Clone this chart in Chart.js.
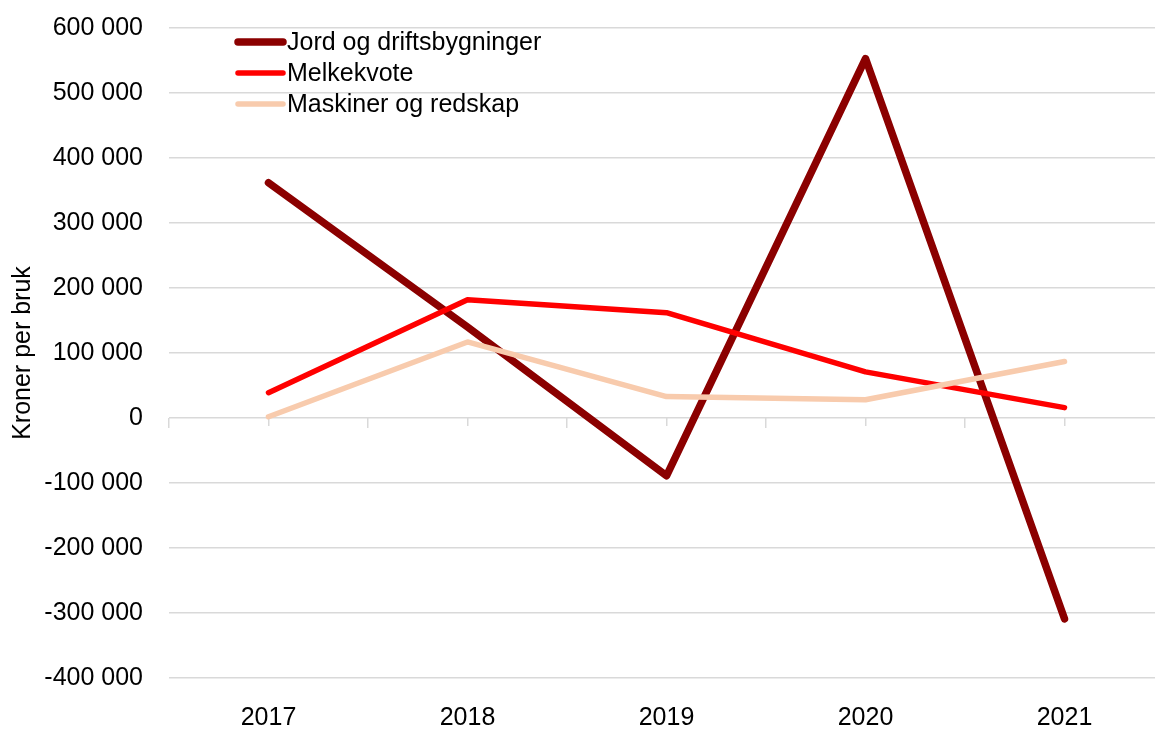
<!DOCTYPE html>
<html>
<head>
<meta charset="utf-8">
<script src="https://cdn.jsdelivr.net/npm/chart.js@4.4.1/dist/chart.umd.min.js"></script>
<style>
  html, body { margin: 0; padding: 0; background: #fff; overflow: hidden; }
  #wrap { width: 1155px; height: 729px; overflow: hidden; }
</style>
</head>
<body>
<div id="wrap"><canvas id="myChart" width="1164" height="729"></canvas></div>
<script>
const years = ['2017', '2018', '2019', '2020', '2021'];
const jord = [362000, 140000, -89000, 553000, -309000];
const melkekvote = [39000, 182000, 162000, 71000, 16000];
const maskiner = [2000, 117000, 33000, 28000, 87000];
const seriesNames = ['Jord og driftsbygninger', 'Melkekvote', 'Maskiner og redskap'];
const yMin = -400000, yMax = 600000, yStep = 100000;
const yTitle = 'Kroner per bruk';

const FONT = "'Liberation Sans', Arial, sans-serif";
const GRID = '#D9D9D9';

function fmt(v) {
    const s = String(Math.abs(v)).replace(/\B(?=(\d{3})+(?!\d))/g, ' ');
    return (v < 0 ? '-' : '') + s;
}

// legend drawn in the top-left corner of the plot, like the original
const seriesKey = {
    id: 'seriesKey',
    afterDatasetsDraw(chart) {
        const ctx = chart.ctx;
        ctx.save();
        ctx.font = '25px ' + FONT;
        ctx.textBaseline = 'middle';
        chart.data.datasets.forEach((ds, i) => {
            const y = 42 + i * 31;
            ctx.strokeStyle = ds.borderColor;
            ctx.lineWidth = ds.borderWidth;
            ctx.lineCap = 'round';
            ctx.beginPath();
            ctx.moveTo(238, y);
            ctx.lineTo(283, y);
            ctx.stroke();
            ctx.fillStyle = '#000';
            ctx.fillText(ds.label, 287, y + 1);
        });
        ctx.restore();
    }
};

const data = {
    labels: years,
    datasets: [{
        label: seriesNames[0],
        data: jord,
        borderColor: '#8B0000',
        borderWidth: 7.5,
        order: 3
    }, {
        label: seriesNames[1],
        data: melkekvote,
        borderColor: '#FF0000',
        borderWidth: 5.5,
        order: 2
    }, {
        label: seriesNames[2],
        data: maskiner,
        borderColor: '#F8CBAD',
        borderWidth: 5.5,
        order: 1
    }]
};

const tickAxis = (len, offset) => ({
    type: 'category',
    position: { y: 0 },
    offset: true,
    afterFit: (scale) => { scale.height = 0; },
    grid: {
        offset: offset,
        drawOnChartArea: false,
        drawTicks: true,
        tickLength: len,
        color: GRID,
        lineWidth: 1.5
    },
    border: { display: false },
    ticks: { display: false }
});

const config = {
    type: 'line',
    data: data,
    options: {
        responsive: false,
        animation: false,
        layout: { padding: { left: 0, top: 28, right: 0, bottom: 0 } },
        elements: {
            point: { radius: 0, hoverRadius: 0 },
            line: { tension: 0, borderCapStyle: 'round', borderJoinStyle: 'round', fill: false }
        },
        plugins: {
            legend: { display: false },
            tooltip: { enabled: false }
        },
        scales: {
            x: {
                type: 'category',
                offset: true,
                afterFit: (scale) => { scale.height = 51; },
                grid: { display: false },
                border: { display: false },
                ticks: {
                    color: '#000',
                    padding: 20,
                    font: { family: FONT, size: 25, lineHeight: 1 },
                    maxRotation: 0
                }
            },
            x2: tickAxis(10, true),
            x3: tickAxis(8, false),
            y: {
                min: yMin,
                max: yMax,
                afterFit: (scale) => { scale.width = 169; },
                grid: {
                    color: GRID,
                    lineWidth: 1.5,
                    drawTicks: true,
                    tickLength: 26,
                    tickColor: 'rgba(0,0,0,0)'
                },
                border: { display: false },
                ticks: {
                    stepSize: yStep,
                    padding: 0,
                    color: '#000',
                    font: { family: FONT, size: 25 },
                    callback: (v) => fmt(v)
                },
                title: {
                    display: true,
                    text: yTitle,
                    color: '#000',
                    font: { family: FONT, size: 25 },
                    padding: { top: 8, bottom: 0 }
                }
            }
        }
    },
    plugins: [seriesKey]
};

const myChart = new Chart(document.getElementById('myChart'), config);
</script>
</body>
</html>
